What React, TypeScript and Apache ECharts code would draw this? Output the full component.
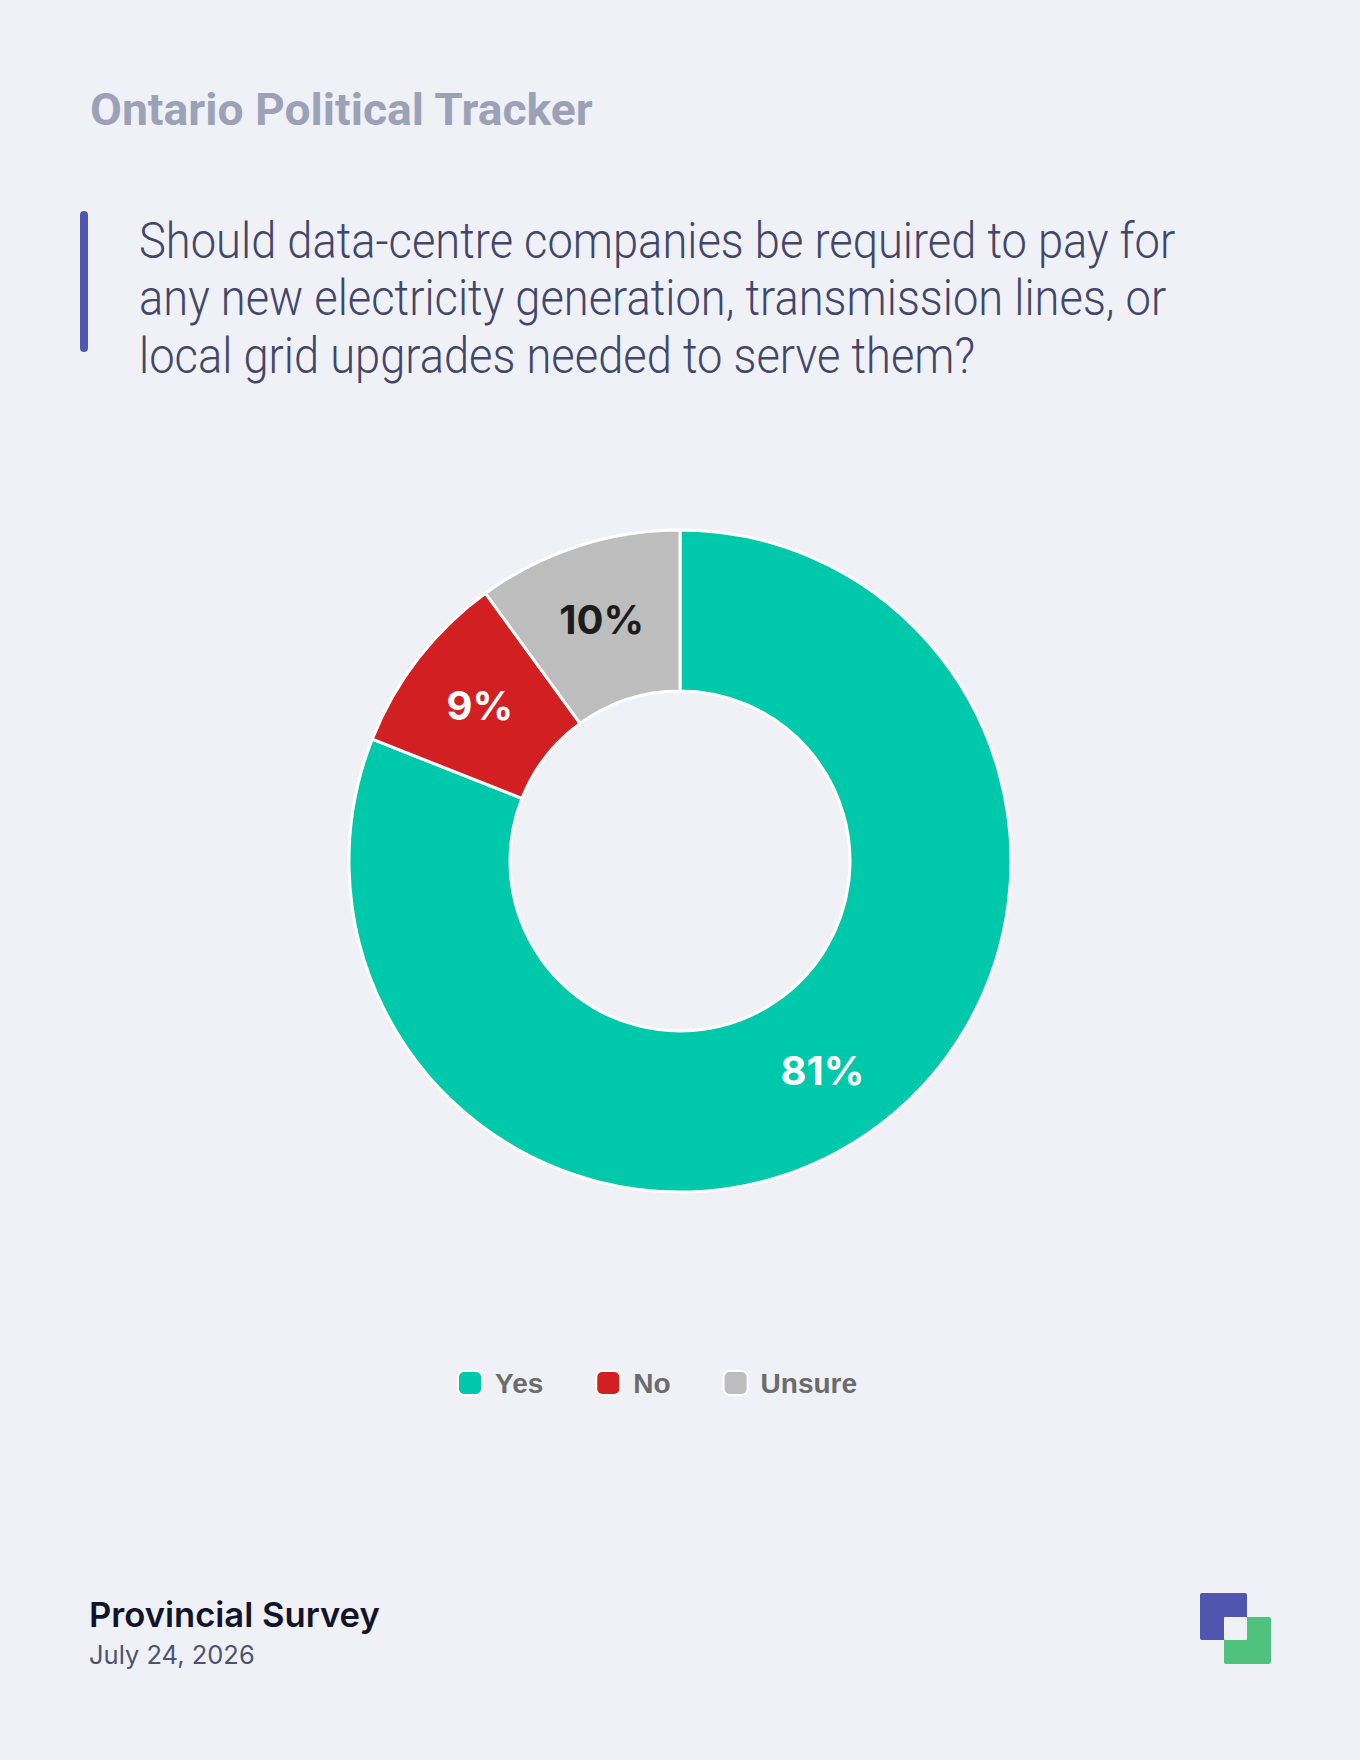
import React, { useEffect, useRef } from "react";
import * as echarts from "echarts";

const categories = ["Yes", "No", "Unsure"];
const values = [81, 9, 10];
const sliceColors = ["#00c8aa", "#d21f22", "#bdbdbd"];
const labelColors = ["#ffffff", "#ffffff", "#1c1c1c"];

const headerTitle = "Ontario Political Tracker";
const questionLines = [
  "Should data-centre companies be required to pay for",
  "any new electricity generation, transmission lines, or",
  "local grid upgrades needed to serve them?",
];
const footerTitle = "Provincial Survey";
const footerDate = "July 24, 2026";

const BG = "#f0f1f7";

function measure(text: string, font: string): number {
  const c = document.createElement("canvas").getContext("2d");
  if (!c) return 1;
  c.font = font;
  return c.measureText(text).width || 1;
}

export default function App() {
  const ref = useRef<HTMLDivElement>(null);

  useEffect(() => {
    if (!ref.current) return;
    const chart = echarts.init(ref.current, null, { renderer: "svg" });

    const qScale = 1037 / measure(questionLines[0], "300 50px Roboto");
    const tScale = 504 / measure(headerTitle, "bold 45px Roboto");

    const text = (
      t: string,
      x: number,
      y: number,
      size: number,
      weight: any,
      fill: string,
      family: string,
      scaleX = 1
    ) => ({
      type: "text",
      x,
      y,
      scaleX,
      style: {
        text: t,
        fontSize: size,
        fontWeight: weight,
        fontFamily: family,
        fill,
        textAlign: "left",
        textVerticalAlign: "middle",
        align: "left",
        verticalAlign: "middle",
      },
    });

    const option: any = {
      animation: false,
      backgroundColor: BG,
      legend: {
        data: categories,
        left: 457,
        top: 1369,
        padding: 0,
        icon: "roundRect",
        itemWidth: 24,
        itemHeight: 24,
        itemGap: 52,
        textStyle: {
          fontSize: 28,
          fontWeight: "bold",
          color: "#6b6b6b",
          fontFamily: "Liberation Sans",
          padding: [0, 0, 0, 8],
        },
      },
      series: [
        {
          type: "pie",
          center: [680, 861],
          radius: [170, 331],
          startAngle: 90,
          clockwise: true,
          avoidLabelOverlap: false,
          itemStyle: { borderColor: "#ffffff", borderWidth: 3 },
          label: {
            show: true,
            position: "inside",
            formatter: "{c}%",
            fontSize: 40,
            fontWeight: "bold",
            fontFamily: "Inter",
          },
          labelLine: { show: false },
          emphasis: { disabled: true },
          data: categories.map((name, i) => ({
            name,
            value: values[i],
            itemStyle: { color: sliceColors[i] },
            label: { color: labelColors[i] },
          })),
        },
      ],
      graphic: [
        text(headerTitle, 90, 110, 45, "bold", "#9ba2b7", "Roboto", tScale),
        {
          type: "rect",
          shape: { x: 80, y: 211, width: 8, height: 141, r: 4 },
          style: { fill: "#5055b0" },
        },
        ...questionLines.map((l, i) =>
          text(l, 139, 241 + i * 57.5, 50, 300, "#42466b", "Roboto", qScale)
        ),
        text(footerTitle, 89, 1614, 34.6, 600, "#12142a", "Inter"),
        text(footerDate, 89, 1654, 25.5, 400, "#4b5373", "Inter"),
        {
          type: "rect",
          shape: { x: 1200, y: 1593, width: 47, height: 47, r: 2 },
          style: { fill: "#5055b0" },
        },
        {
          type: "rect",
          shape: { x: 1224, y: 1617, width: 47, height: 47, r: 2 },
          style: { fill: "#4fc27e" },
        },
        {
          type: "rect",
          shape: { x: 1224, y: 1617, width: 23, height: 23, r: 1 },
          style: { fill: BG },
        },
      ],
    };

    chart.setOption(option);
    return () => chart.dispose();
  }, []);

  return (
    <div
      ref={ref}
      style={{ position: "absolute", left: 0, top: 0, width: 1360, height: 1760 }}
    />
  );
}
